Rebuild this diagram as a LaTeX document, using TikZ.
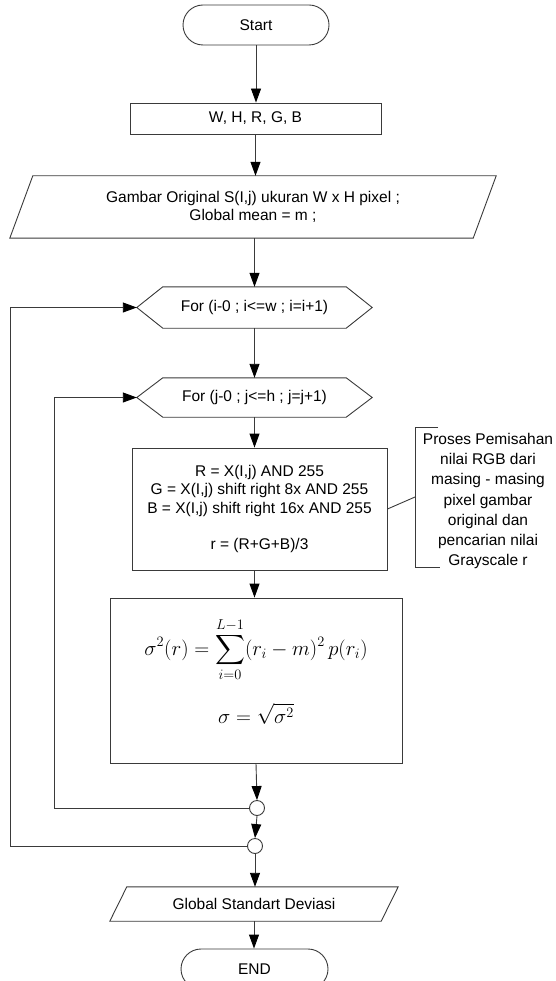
\documentclass[tikz,border=0pt]{standalone}
\usepackage[no-math]{fontspec}
\setmainfont{Liberation Sans}
\usepackage{amsmath}
\usetikzlibrary{shapes.misc, arrows.meta, positioning, calc}
\definecolor{linegray}{HTML}{3A3A3A}
\definecolor{tipblack}{HTML}{000000}

\tikzset{
  flowline/.style={draw=linegray, line width=0.9pt},
  flowarrow/.style={flowline, -{Triangle[length=14pt,width=10pt,color=tipblack]}},
  procbox/.style={draw=linegray, line width=0.9pt, rectangle, inner sep=0pt, align=center},
  termbox/.style={draw=linegray, line width=0.9pt, rounded rectangle, inner sep=0pt},
  framebox/.style={rectangle, inner sep=0pt, align=center},
  joinpt/.style={draw=linegray, line width=0.9pt, circle, fill=white, minimum size=15pt, inner sep=0pt}
}

\begin{document}
\begin{tikzpicture}[x=1pt, y=-1pt, font=\fontsize{15.5}{18.3}\selectfont]
  \useasboundingbox (0,0) rectangle (555,981);

  % Start and inputs
  \node[termbox, minimum width=146pt, minimum height=40pt] (start) at (256,25) {Start};
  \node[procbox, minimum width=251pt, minimum height=31pt] (wh) at (255.5,118.5) {W, H, R, G, B};
  \node[framebox, minimum width=486pt, minimum height=62pt] (gam) at (253,207)
    {Gambar Original S(I,j) ukuran W x H pixel ;\\ Global mean = m ;};
  \draw[flowline] (gam.south west) -- ([xshift=23pt]gam.north west) -- (gam.north east)
    -- ([xshift=-23pt]gam.south east) -- cycle;

  % Loops
  \node[framebox, minimum width=235pt, minimum height=41pt] (hex1) at (254.5,307.5) {For (i-0 ; i<=w ; i=i+1)};
  \node[framebox, minimum width=235pt, minimum height=39pt] (hex2) at (254.5,397.5) {For (j-0 ; j<=h ; j=j+1)};
  \foreach \h in {hex1,hex2} {
    \draw[flowline] (\h.west) -- ([xshift=26pt]\h.north west) -- ([xshift=-26pt]\h.north east)
      -- (\h.east) -- ([xshift=-26pt]\h.south east) -- ([xshift=26pt]\h.south west) -- cycle;
  }

  % RGB separation and grayscale
  \node[procbox, minimum width=255pt, minimum height=122pt] (proc) at (259.5,509)
    {R = X(I,j) AND 255\\ G = X(I,j) shift right 8x AND 255\\ B = X(I,j) shift right 16x AND 255\\[18.3pt] r = (R+G+B)/3};

  % Standard deviation formula
  \node[procbox, minimum width=292pt, minimum height=165pt, font=\fontsize{19.6}{22}\selectfont] (sdev) at (256,680.5)
    {$\displaystyle \sigma^2(r)=\sum_{i=0}^{L-1}(r_i-m)^2\,p(r_i)$\\[20pt] $\displaystyle \sigma=\sqrt{\sigma^2}$\\[-2pt] \mbox{}};

  % Loop joins
  \node[joinpt] (c1) at (257,808) {};
  \node[joinpt] (c2) at (255,846) {};

  % Output and end
  \node[framebox, minimum width=288pt, minimum height=34pt] (gsd) at (254,904) {Global Standart Deviasi};
  \draw[flowline] (gsd.south west) -- ([xshift=17pt]gsd.north west) -- (gsd.north east)
    -- ([xshift=-17pt]gsd.south east) -- cycle;
  \node[termbox, minimum width=147pt, minimum height=40pt] (stop) at (254.5,969) {END};

  % Note
  \node[framebox, font=\fontsize{15.5}{20.3}\selectfont] (note) at (488,501)
    {Proses Pemisahan\\ nilai RGB dari\\ masing - masing\\ pixel gambar\\ original dan\\ pencarian nilai\\ Grayscale r};
  \draw[flowline] (438,427) -- (415,427) -- (415,567) -- (440,567);
  \coordinate (brk) at (415,497);
  \draw[flowline] (proc.east) -- (brk);

  % Flow
  \draw[flowarrow] (start.south) -- (start.south |- wh.north);
  \draw[flowarrow] (wh.south) -- (wh.south |- gam.north);
  \draw[flowarrow] (gam.south -| hex1.north) -- (hex1.north);
  \draw[flowarrow] (hex1.south) -- (hex2.north);
  \draw[flowarrow] (hex2.south) -- (hex2.south |- proc.north);
  \draw[flowarrow] (hex2.south |- proc.south) -- (hex2.south |- sdev.north);
  \draw[flowarrow] (sdev.south) -- (c1.north);
  \draw[flowarrow] (c1.south) -- (c2.north);
  \draw[flowarrow] (c2.south) -- (c2.south |- gsd.north);
  \draw[flowarrow] (gsd.south) -- (gsd.south |- stop.north);

  % Loop backs
  \coordinate (jloop) at (54,808);
  \coordinate (iloop) at (10,846);
  \draw[flowarrow] (c1.west) -- (jloop) |- (hex2.west);
  \draw[flowarrow] (c2.west) -- (iloop) |- (hex1.west);
\end{tikzpicture}
\end{document}
